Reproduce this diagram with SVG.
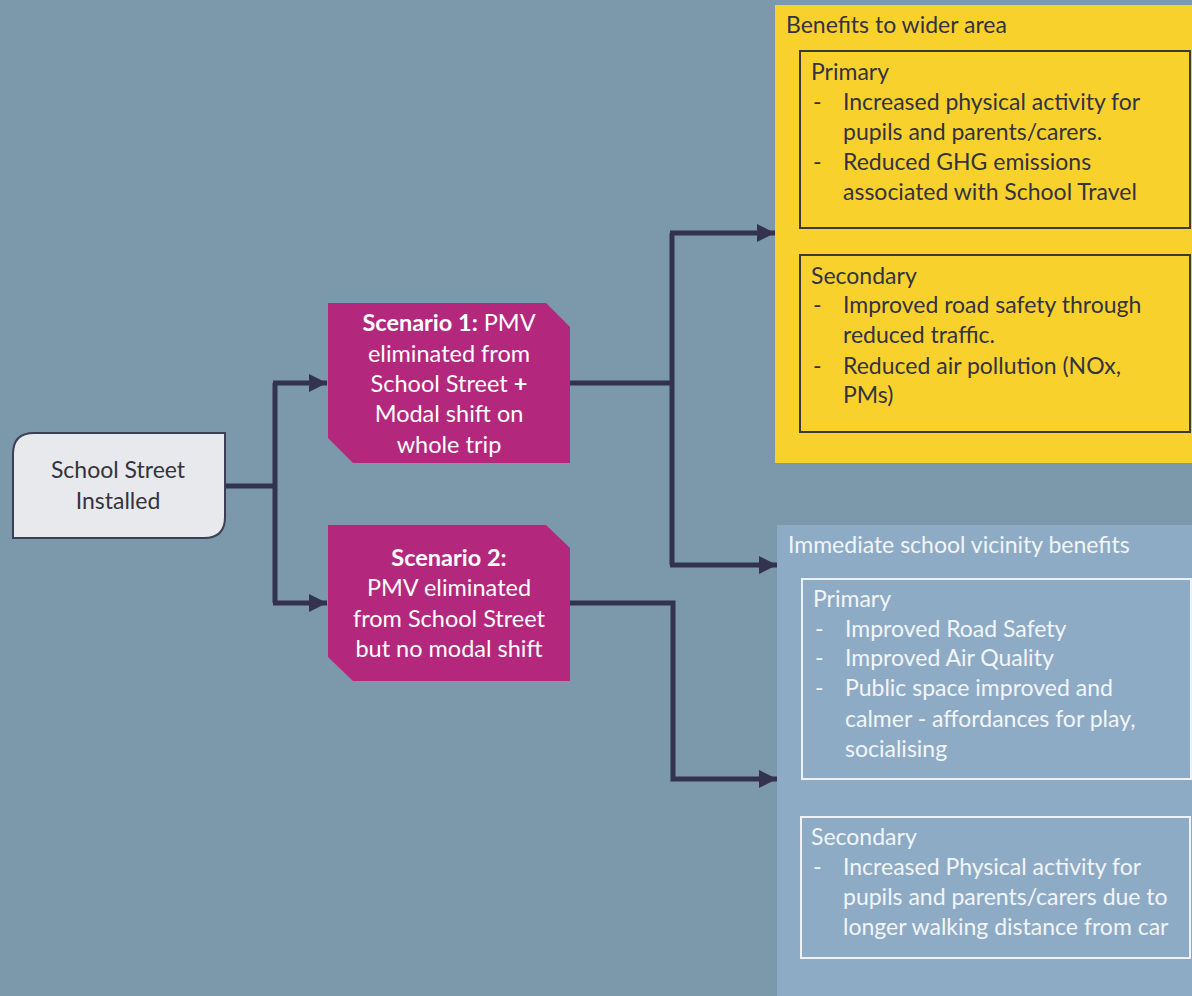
<svg xmlns="http://www.w3.org/2000/svg" width="1192" height="996" viewBox="0 0 1192 996">
<defs>
<style>
.t{font-family:Lato,"Open Sans","Liberation Sans",sans-serif;font-size:23px}
.s{font-size:23.5px}
.dk{fill:#33333f}
.wh{fill:#ffffff}
.lt{fill:#f2f5f8}
.c{text-anchor:middle}
.b{font-weight:bold}
.conn{fill:none;stroke:#33334f;stroke-width:5}
</style>
<marker id="ah" viewBox="0 0 10 10" refX="10" refY="5" markerWidth="18" markerHeight="19" markerUnits="userSpaceOnUse" orient="auto">
<path d="M0,0 L10,5 L0,10 z" fill="#33334f"/>
</marker>
</defs>
<rect width="1192" height="996" fill="#7b99aa"/>

<g id="connectors">
<path class="conn" d="M226,486 H275"/>
<path class="conn" d="M275,383 V603"/>
<path class="conn" d="M273,383 H327" marker-end="url(#ah)"/>
<path class="conn" d="M273,603 H327" marker-end="url(#ah)"/>
<path class="conn" d="M570,383 H672"/>
<path class="conn" d="M672,233 V565"/>
<path class="conn" d="M670,233 H775" marker-end="url(#ah)"/>
<path class="conn" d="M670,565 H777" marker-end="url(#ah)"/>
<path class="conn" d="M570,603 H673 V779 H777" marker-end="url(#ah)"/>
</g>

<g id="school-street">
<path d="M34,433 H225 V517 Q225,538 204,538 H13 V454 Q13,433 34,433 Z" fill="#e8e9ed" stroke="#3c4055" stroke-width="2"/>
<text class="t dk c" x="118" y="478">School Street</text>
<text class="t dk c" x="118" y="509">Installed</text>
</g>

<g id="scenario1">
<path d="M328,303 H546 L570,327 V463 H353 L328,438 Z" fill="#b3287d"/>
<text class="t s wh c" x="449" y="331"><tspan class="b">Scenario 1:</tspan> PMV</text>
<text class="t s wh c" x="449" y="362">eliminated from</text>
<text class="t s wh c" x="449" y="392">School Street <tspan class="b">+</tspan></text>
<text class="t s wh c" x="449" y="422">Modal shift on</text>
<text class="t s wh c" x="449" y="453">whole trip</text>
</g>

<g id="scenario2">
<path d="M328,525 H546 L570,548 V681 H353 L328,657 Z" fill="#b3287d"/>
<text class="t s wh c b" x="449" y="566">Scenario 2:</text>
<text class="t s wh c" x="449" y="596">PMV eliminated</text>
<text class="t s wh c" x="449" y="627">from School Street</text>
<text class="t s wh c" x="449" y="657">but no modal shift</text>
</g>

<g id="wider-area">
<rect x="775" y="5" width="420" height="458" fill="#f9d12d"/>
<text class="t dk" x="786" y="33">Benefits to wider area</text>
<rect x="800" y="51" width="390" height="177" fill="none" stroke="#3a3a3c" stroke-width="2"/>
<text class="t dk" x="811" y="80">Primary</text>
<text class="t dk" x="813" y="110">-</text><text class="t dk" x="843" y="110">Increased physical activity for</text>
<text class="t dk" x="843" y="140">pupils and parents/carers.</text>
<text class="t dk" x="813" y="170">-</text><text class="t dk" x="843" y="170">Reduced GHG emissions</text>
<text class="t dk" x="843" y="200">associated with School Travel</text>
<rect x="800" y="255" width="390" height="177" fill="none" stroke="#3a3a3c" stroke-width="2"/>
<text class="t dk" x="811" y="284">Secondary</text>
<text class="t dk" x="813" y="313">-</text><text class="t dk" x="843" y="313">Improved road safety through</text>
<text class="t dk" x="843" y="343">reduced traffic.</text>
<text class="t dk" x="813" y="374">-</text><text class="t dk" x="843" y="374">Reduced air pollution (NOx,</text>
<text class="t dk" x="843" y="403">PMs)</text>
</g>

<g id="vicinity">
<rect x="777" y="525" width="420" height="475" fill="#8eabc6"/>
<text class="t lt" x="788" y="553">Immediate school vicinity benefits</text>
<rect x="802" y="579" width="389" height="200" fill="none" stroke="#eef2f6" stroke-width="2"/>
<text class="t lt" x="813" y="607">Primary</text>
<text class="t lt" x="815" y="637">-</text><text class="t lt" x="845" y="637">Improved Road Safety</text>
<text class="t lt" x="815" y="666">-</text><text class="t lt" x="845" y="666">Improved Air Quality</text>
<text class="t lt" x="815" y="696">-</text><text class="t lt" x="845" y="696">Public space improved and</text>
<text class="t lt" x="845" y="727">calmer - affordances for play,</text>
<text class="t lt" x="845" y="757">socialising</text>
<rect x="801" y="817" width="389" height="141" fill="none" stroke="#eef2f6" stroke-width="2"/>
<text class="t lt" x="811" y="845">Secondary</text>
<text class="t lt" x="813" y="875">-</text><text class="t lt" x="843" y="875">Increased Physical activity for</text>
<text class="t lt" x="843" y="905">pupils and parents/carers due to</text>
<text class="t lt" x="843" y="935">longer walking distance from car</text>
</g>
</svg>
